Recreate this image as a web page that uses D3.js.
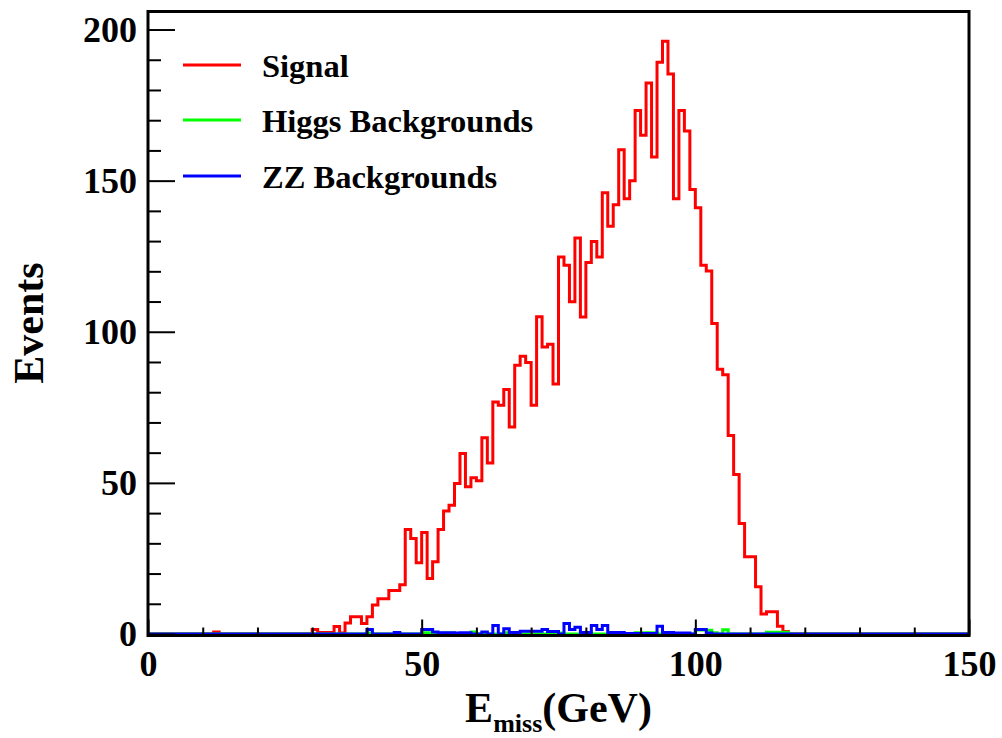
<!DOCTYPE html>
<html>
<head>
<meta charset="utf-8">
<script src="https://cdn.jsdelivr.net/npm/d3@7"></script>
<style>
  html, body { margin: 0; padding: 0; background: #fff; }
  svg { display: block; }
  text { font-family: "Liberation Serif", "Times New Roman", serif; font-weight: bold; fill: #000; }
</style>
</head>
<body>
<svg id="chart" width="1002" height="738"></svg>
<script>
// ---- Data (1 GeV bins, 0..150 GeV) ----
const nBins = 150;
const binLow = 0, binHigh = 150;

// Signal: non-zero bins listed as [bin, value]
const signalBins = [
  [12,0.7],[30,1.5],[31,0.5],[32,0.5],[33,0.5],[34,2.5],[35,0.3],[36,3.6],[37,5.7],[38,5.7],
  [39,3.5],[40,5.7],[41,9.6],[42,11.7],[43,11.7],[44,14.4],[45,14.4],[46,16.3],[47,34.6],[48,31.6],
  [49,23.6],[50,33.6],[51,18.4],[52,23.9],[53,34.6],[54,40.7],[55,42.6],[56,49.8],[57,59.7],[58,48.7],
  [59,51.7],[60,50.7],[61,64.9],[62,56.6],[63,76.8],[64,75.7],[65,80.9],[66,68.5],[67,88.9],[68,91.9],
  [69,89.8],[70,75.7],[71,105.0],[72,95.0],[73,95.9],[74,82.7],[75,124.7],[76,122.0],[77,109.9],[78,131.0],
  [79,104.9],[80,122.9],[81,129.9],[82,124.7],[83,146.0],[84,134.9],[85,142.0],[86,160.2],[87,144.0],[88,150.0],
  [89,173.2],[90,165.0],[91,182.3],[92,157.8],[93,189.2],[94,196.1],[95,185.3],[96,144.0],[97,173.2],[98,166.4],
  [99,147.1],[100,141.0],[101,122.0],[102,120.1],[103,102.7],[104,87.6],[105,85.8],[106,65.7],[107,52.8],[108,36.6],
  [109,25.6],[110,25.6],[111,15.6],[112,6.6],[113,7.4],[114,7.4],[115,2.6],[116,0.8]
];

// Higgs backgrounds
const higgsBins = [
  [40,0.3],[45,0.3],[50,0.4],[51,0.4],[53,0.3],[54,0.3],[55,0.3],[59,0.7],[61,0.4],[65,0.4],
  [74,0.3],[75,0.3],[79,0.3],[80,0.3],[89,0.4],[90,0.4],[91,0.4],[92,0.4],
  [100,1.3],[101,1.3],[102,1.2],[103,0.4],[105,1.4],[113,0.6],[114,0.6],[115,0.6],[116,0.6]
];

// ZZ backgrounds
const zzBins = [
  [40,1.5],[45,0.5],[50,1.5],[51,1.5],[52,0.7],[53,0.4],[54,0.4],[55,0.4],[56,0.3],[57,0.4],[58,0.4],
  [61,0.7],[63,2.8],[65,1.7],[66,0.5],[67,0.5],[68,0.9],[69,0.9],[70,0.9],[71,0.9],[72,1.5],[73,0.8],[74,0.8],
  [76,3.5],[77,1.5],[78,2.2],[79,0.5],[80,0.5],[81,2.8],[82,1.5],[83,2.8],[84,0.5],[85,0.5],[86,0.5],
  [87,0.2],[88,0.2],[89,0.2],[90,0.2],[91,0.2],[92,0.2],[93,2.6],[94,0.5],[95,0.5],[96,0.3],[97,0.3],[98,0.3],
  [100,1.5],[101,1.5],[102,0.3]
];

const seriesNames = ["Signal", "Higgs Backgrounds", "ZZ Backgrounds"];
const seriesColors = ["#ff0000", "#00ff00", "#0000ff"];
const xMajorTicks = [0, 50, 100, 150];
const yMajorTicks = [0, 50, 100, 150, 200];
const yMax = 205.8;

function fill(list) {
  const arr = new Array(nBins).fill(0);
  list.forEach(([b, v]) => { arr[b] = v; });
  return arr;
}
const seriesData = [fill(signalBins), fill(higgsBins), fill(zzBins)];

// ---- Layout ----
const svg = d3.select("#chart");
const L = 148, R = 969, T = 12, B = 634;
const x = d3.scaleLinear().domain([binLow, binHigh]).range([L, R]);
const y = d3.scaleLinear().domain([0, yMax]).range([B, T]);

// Histograms
const line = d3.line().x(d => x(d[0])).y(d => y(d[1])).curve(d3.curveStepAfter);
const binW = (binHigh - binLow) / nBins;
seriesData.forEach((vals, i) => {
  const pts = vals.map((v, k) => [binLow + k * binW, v]);
  pts.push([binHigh, vals[nBins - 1]]);
  svg.append("path")
    .attr("d", line(pts))
    .attr("fill", "none")
    .attr("stroke", seriesColors[i])
    .attr("stroke-width", 3)
    .attr("stroke-linejoin", "miter");
});

// Frame
svg.append("rect")
  .attr("x", L).attr("y", T - 0.5)
  .attr("width", R - L).attr("height", B - T + 2)
  .attr("fill", "none").attr("stroke", "#000").attr("stroke-width", 3);

// X axis ticks
const xMinor = d3.range(binLow, binHigh + 0.001, 10).filter(v => !xMajorTicks.includes(v));
const gx = svg.append("g").attr("transform", `translate(0,${B + 1.5})`);
gx.call(d3.axisBottom(x).tickValues(xMinor).tickSize(-8).tickFormat(""));
gx.call(g => g.select(".domain").remove());
const gx2 = svg.append("g").attr("transform", `translate(0,${B + 1.5})`);
gx2.call(d3.axisBottom(x).tickValues(xMajorTicks).tickSize(-16).tickPadding(15).tickFormat(d3.format("d")));
gx2.select(".domain").remove();
gx2.selectAll("text").attr("font-size", 36).attr("dy", "0.71em")
  .style("font-family", '"Liberation Serif", serif').style("font-weight", "bold");

// Y axis ticks
const yMinor = d3.range(0, 205, 10).filter(v => !yMajorTicks.includes(v));
const gy = svg.append("g").attr("transform", `translate(${L},0)`);
gy.call(d3.axisLeft(y).tickValues(yMinor).tickSize(-13).tickFormat(""));
gy.select(".domain").remove();
const gy2 = svg.append("g").attr("transform", `translate(${L},0)`);
gy2.call(d3.axisLeft(y).tickValues(yMajorTicks).tickSize(-27).tickPadding(11).tickFormat(d3.format("d")));
gy2.select(".domain").remove();
gy2.selectAll("text").attr("font-size", 36)
  .style("font-family", '"Liberation Serif", serif').style("font-weight", "bold");
svg.selectAll("g.tick line").attr("stroke", "#000").attr("stroke-width", 2);

// Axis titles
const xt = svg.append("text")
  .attr("x", (L + R) / 2).attr("y", 722)
  .attr("text-anchor", "middle").attr("font-size", 42);
xt.append("tspan").text("E");
xt.append("tspan").attr("font-size", 26).attr("dy", 10).text("miss");
xt.append("tspan").attr("dy", -10).text("(GeV)");

svg.append("text")
  .attr("transform", `translate(43,${(T + B) / 2}) rotate(-90)`)
  .attr("text-anchor", "middle").attr("font-size", 42)
  .text("Events");

// Legend
const legY = [65, 120, 176];
seriesNames.forEach((name, i) => {
  svg.append("line")
    .attr("x1", 183).attr("x2", 241)
    .attr("y1", legY[i]).attr("y2", legY[i])
    .attr("stroke", seriesColors[i]).attr("stroke-width", 3);
  svg.append("text")
    .attr("x", 262).attr("y", legY[i] + 12)
    .attr("font-size", 32.5)
    .text(name);
});
</script>
</body>
</html>
